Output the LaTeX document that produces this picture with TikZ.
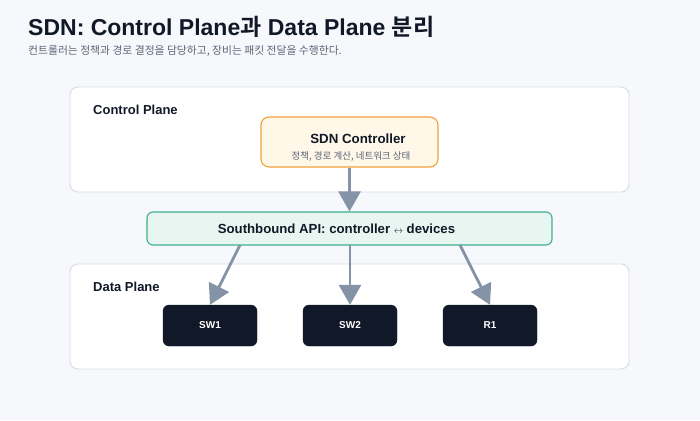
\documentclass[tikz,border=0pt]{standalone}
\usepackage{fontspec}
\setmainfont{Liberation Sans}
\newfontfamily\kr{Noto Sans CJK KR}
\newfontfamily\krb{Noto Sans CJK KR}[BoldFont={* Bold}]
\usetikzlibrary{arrows.meta}
\definecolor{bgc}{HTML}{F7F8FC}
\definecolor{panelb}{HTML}{D6DBE4}
\definecolor{ink}{HTML}{111827}
\definecolor{subc}{HTML}{5B6577}
\definecolor{ctrlf}{HTML}{FFF7E8}
\definecolor{ctrlb}{HTML}{EFA23A}
\definecolor{apif}{HTML}{E7F6F0}
\definecolor{apib}{HTML}{3FAF90}
\definecolor{arr}{HTML}{8593A6}
\tikzset{
  panel/.style={draw=panelb, line width=0.9pt, fill=white, rounded corners=8pt},
  plabel/.style={anchor=west, font=\bfseries\fontsize{13}{15}\selectfont, text=ink, inner sep=0pt},
  dev/.style={draw=ink, fill=ink, rounded corners=6pt, minimum width=94pt, minimum height=41pt, text=white, font=\bfseries\fontsize{10}{12}\selectfont, inner sep=0pt},
  conn/.style={draw=arr, line width=2.8pt, -{Triangle[length=20pt,width=22pt]}},
}
\begin{document}
\begin{tikzpicture}[x=1pt,y=-1pt]
\useasboundingbox (0,0) rectangle (700,420);
\fill[bgc] (0,0) rectangle (700,420);
% title
\node[anchor=base west, inner sep=0pt, text=ink] (title) at (28,35) {\bfseries\fontsize{23}{26}\selectfont SDN: Control Plane{\krb\bfseries 과} Data Plane {\krb\bfseries 분리}};
\node[anchor=base west, inner sep=0pt, text=subc] (sub) at (28,54) {\kr\fontsize{10.8}{12}\selectfont 컨트롤러는 정책과 경로 결정을 담당하고, 장비는 패킷 전달을 수행한다.};
% panels
\draw[panel] (70,87) rectangle (629,192);
\node[plabel] (cpl) at (93,110) {Control Plane};
\draw[panel] (70,264) rectangle (629,369);
\node[plabel] (dpl) at (93,287) {Data Plane};
% controller
\node[draw=ctrlb, fill=ctrlf, line width=1.1pt, rounded corners=8pt, minimum width=177pt, minimum height=50pt, inner sep=0pt] (ctrl) at (349.5,142) {};
\node[font=\bfseries\fontsize{13.3}{15}\selectfont, text=ink, inner sep=0pt] (ctrlt) at (358,139) {SDN Controller};
\node[font=\kr\fontsize{9.5}{11}\selectfont, text=subc, inner sep=0pt] (ctrls) at (351,156) {정책, 경로 계산, 네트워크 상태};
% southbound
\node[draw=apib, fill=apif, line width=1.1pt, rounded corners=6pt, minimum width=405pt, minimum height=33pt, inner sep=0pt] (api) at (349.5,228.5) {};
\node[font=\bfseries\fontsize{13.2}{15}\selectfont, text=ink, inner sep=0pt] (apit) at (336.5,229) {Southbound API: controller {\fontsize{9.5}{10}\selectfont$\leftrightarrow$} devices};
% devices
\node[dev] (sw1) at (210,325.5) {SW1};
\node[dev] (sw2) at (350,325.5) {SW2};
\node[dev] (r1) at (490,325.5) {R1};
% arrows
\coordinate (a1) at (240,245);
\coordinate (a2) at (350,245);
\coordinate (a3) at (460,245);
\draw[conn] (ctrl.south) -- (api.north);
\draw[conn] (a1) -- (sw1.north);
\draw[conn] (a2) -- (sw2.north);
\draw[conn] (a3) -- (r1.north);
\end{tikzpicture}
\end{document}
